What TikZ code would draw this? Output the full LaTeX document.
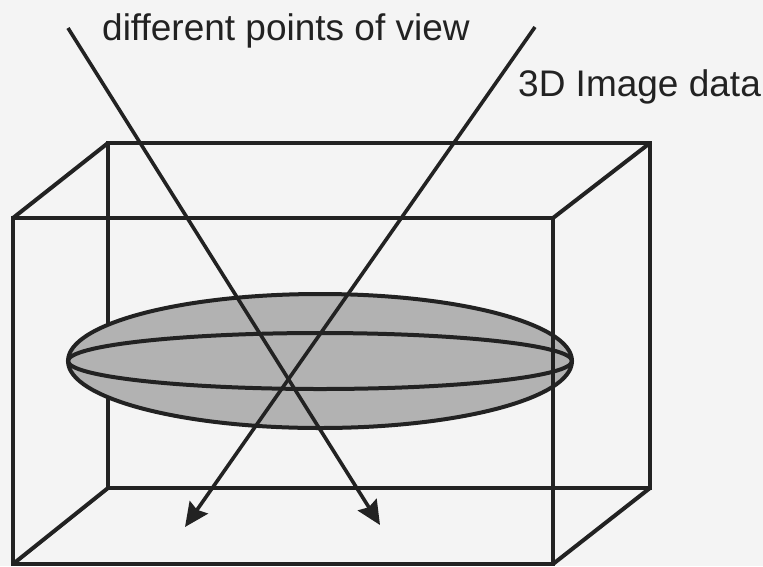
\documentclass[tikz,border=0pt]{standalone}
\usepackage{fontspec}
\setmainfont{Liberation Sans}
\usetikzlibrary{arrows.meta}
\definecolor{paper}{HTML}{F4F4F4}
\definecolor{ink}{HTML}{222222}
\definecolor{blobgray}{HTML}{B2B2B2}
\tikzset{
  edge/.style={draw=ink, line width=4pt, line join=miter},
  ray/.style={draw=ink, line width=3.6pt, -{Stealth[length=24pt,width=22pt,inset=3pt]}},
  lbl/.style={anchor=base west, inner sep=0pt, text=ink, font=\fontsize{37}{40}\selectfont},
}
\begin{document}
\begin{tikzpicture}[x=1pt,y=-1pt]
\useasboundingbox (0,0) rectangle (763,566);
\fill[paper] (0,0) rectangle (763,566);
% box corners
\coordinate (fTL) at (13,218);  \coordinate (fTR) at (553,218);
\coordinate (fBL) at (13,564);  \coordinate (fBR) at (553,564);
\coordinate (bTL) at (108,143); \coordinate (bTR) at (650,143);
\coordinate (bBL) at (108,488); \coordinate (bBR) at (650,488);
% back part of box
\draw[edge] (bTL) rectangle (bBR);
\draw[edge] (fTL) -- (bTL);
\draw[edge] (fTR) -- (bTR);
\draw[edge] (fBL) -- (bBL);
\draw[edge] (fBR) -- (bBR);
% ellipsoid
\coordinate (ctr) at (320,361);
\draw[edge, fill=blobgray] (ctr) ellipse [x radius=252, y radius=67];
\draw[edge] (ctr) ellipse [x radius=252, y radius=28];
% front face
\draw[edge] (fTL) rectangle (fBR);
% rays
\coordinate (r1s) at (68,28);  \coordinate (r1e) at (380,525);
\coordinate (r2s) at (535,27); \coordinate (r2e) at (185,527);
\draw[ray] (r1s) -- (r1e);
\draw[ray] (r2s) -- (r2e);
% labels
\node[lbl] (views) at (102,40) {different points of view};
\node[lbl] (data) at (518,96) {3D Image data};
\end{tikzpicture}
\end{document}
